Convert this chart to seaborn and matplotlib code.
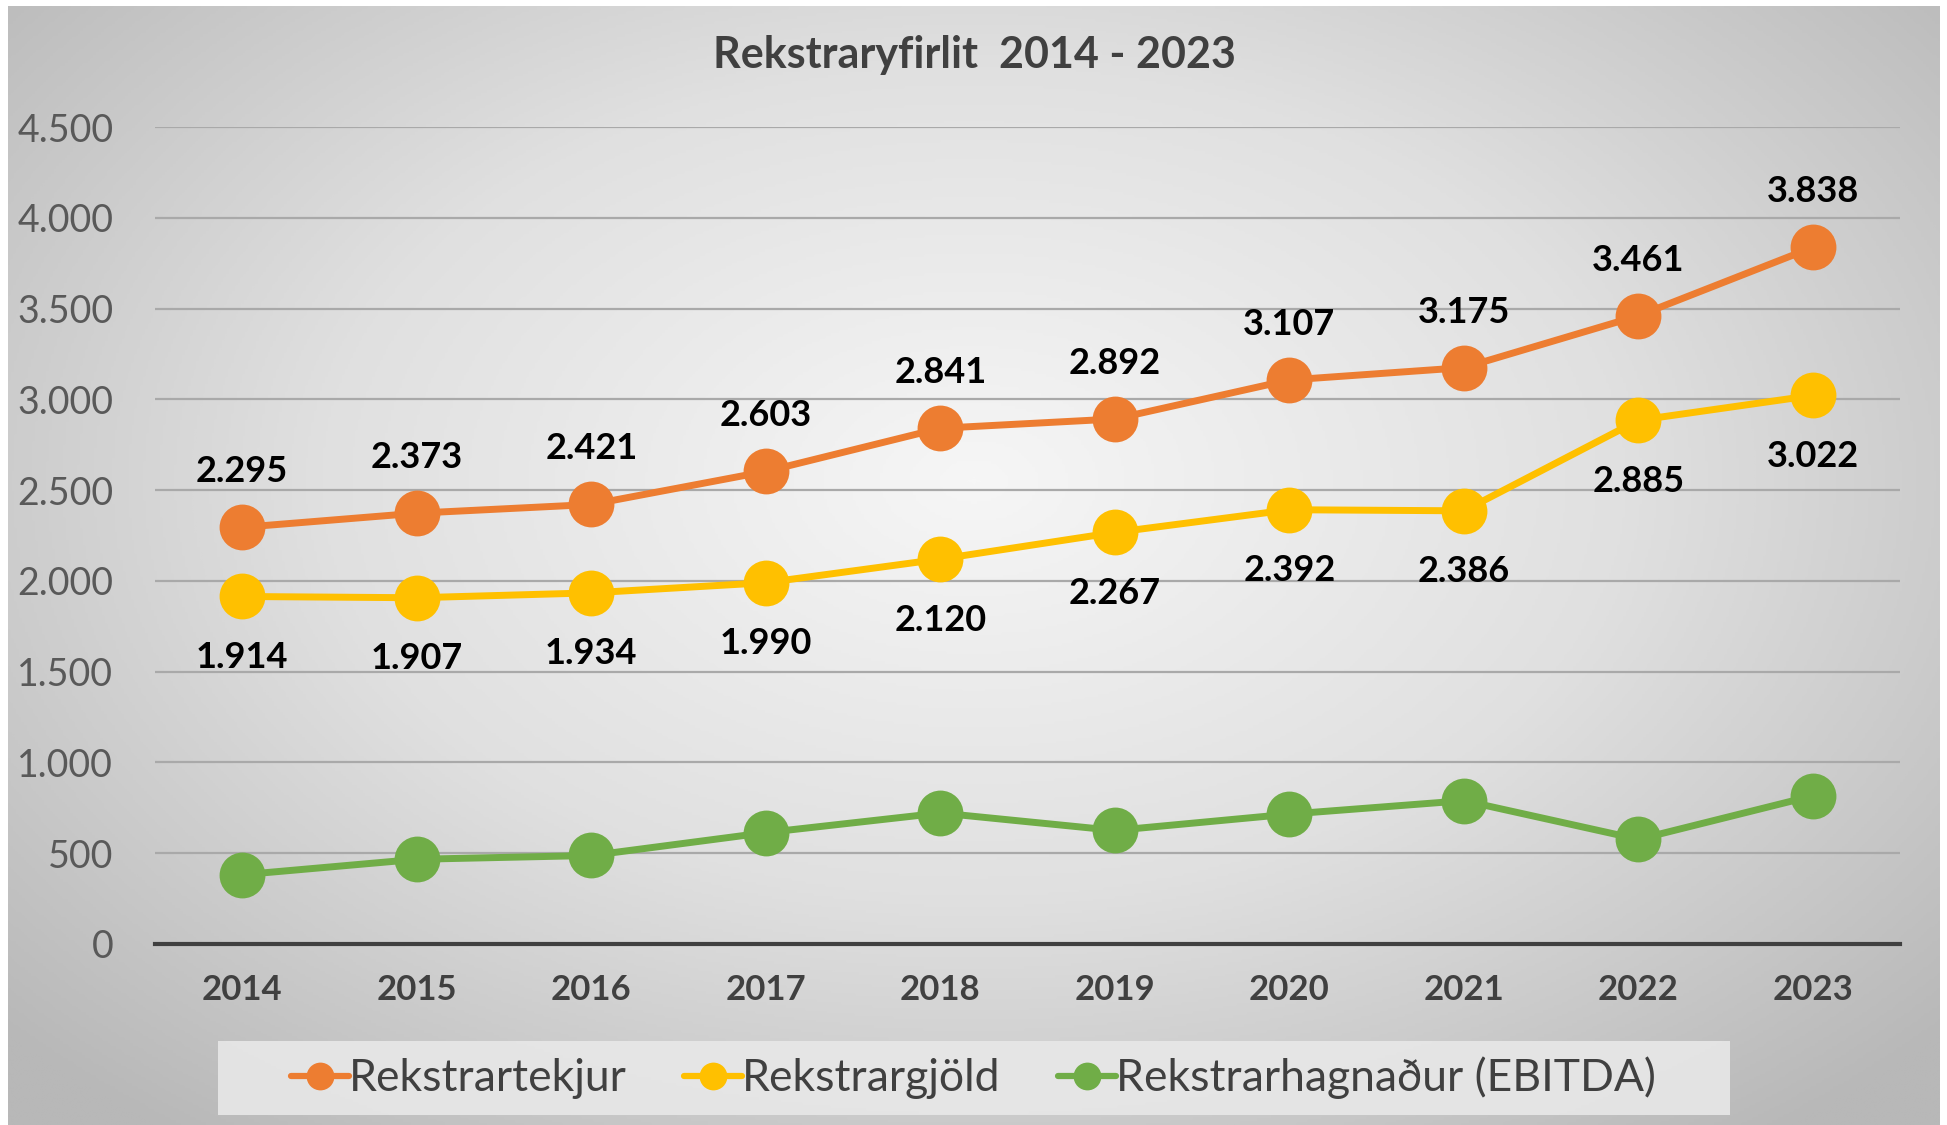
import numpy as np
import pandas as pd
import seaborn as sns
import matplotlib.pyplot as plt
from matplotlib.colors import LinearSegmentedColormap
from matplotlib.patches import Rectangle
from matplotlib.ticker import FuncFormatter

# ==========================================
# DATA
# ==========================================
YEARS = ["2014", "2015", "2016", "2017", "2018", "2019", "2020", "2021", "2022", "2023"]
REVENUE = [2295, 2373, 2421, 2603, 2841, 2892, 3107, 3175, 3461, 3838]
EXPENSES = [1914, 1907, 1934, 1990, 2120, 2267, 2392, 2386, 2885, 3022]
EBITDA = [381, 466, 487, 613, 721, 625, 715, 789, 576, 816]

SERIES_NAMES = ["Rekstrartekjur", "Rekstrargjöld", "Rekstrarhagnaður (EBITDA)"]
COLORS = ["#ED7D31", "#FFC000", "#70AD47"]
TITLE = "Rekstraryfirlit  2014 - 2023"

FONT = ["Lato", "DejaVu Sans"]


def fmt_is(v):
    # Icelandic thousands separator
    return f"{int(round(v)):,}".replace(",", ".")


def build_frame():
    rows = []
    for name, vals in zip(SERIES_NAMES, [REVENUE, EXPENSES, EBITDA]):
        for y, v in zip(YEARS, vals):
            rows.append({"Ár": y, "Upphæð": v, "Liður": name})
    return pd.DataFrame(rows)


def main():
    df = build_frame()

    sns.set_theme(style="white")
    plt.rcParams["font.family"] = FONT

    fig = plt.figure(figsize=(19.47, 11.25), dpi=100)
    fig.patch.set_facecolor("white")

    # radial grey gradient background
    bg = fig.add_axes([0.004, 0.0, 0.992, 0.995], zorder=-10)
    yy, xx = np.mgrid[-1:1:400j, -1:1:700j]
    r = np.sqrt((xx / 1.0) ** 2 + ((yy + 0.15) / 1.1) ** 2)
    cmap = LinearSegmentedColormap.from_list("bg", ["#f6f6f6", "#e0e0e0", "#b8b8b8"])
    bg.imshow(np.clip(r, 0, 1.35), cmap=cmap, aspect="auto", extent=[0, 1, 0, 1])
    bg.set_axis_off()

    # legend backdrop
    fig.patches.append(Rectangle((0.1122, 0.0089), 0.7762, 0.0662, transform=fig.transFigure,
                                 facecolor="#e8e8e8", edgecolor="none", alpha=0.9, zorder=-5))

    ax = fig.add_axes([0.0796, 0.161, 0.8964, 0.726])
    ax.patch.set_alpha(0)

    sns.lineplot(
        data=df, x="Ár", y="Upphæð", hue="Liður",
        hue_order=SERIES_NAMES, palette=COLORS,
        marker="o", markersize=33, markeredgewidth=0,
        linewidth=5, ax=ax, legend=True, zorder=3,
    )
    for ln in ax.lines:
        ln.set_clip_on(False)

    ax.set_xlim(-0.5, len(YEARS) - 0.5)
    ax.set_ylim(0, 4500)
    ax.set_yticks(np.arange(0, 4501, 500))
    ax.yaxis.set_major_formatter(FuncFormatter(lambda v, p: fmt_is(v)))
    ax.grid(axis="y", color="#a9a9a9", linewidth=1.6, zorder=0)
    ax.grid(axis="x", visible=False)
    ax.set_axisbelow(True)
    for side in ["top", "right", "left"]:
        ax.spines[side].set_visible(False)
    ax.spines["bottom"].set_color("#404040")
    ax.spines["bottom"].set_linewidth(3)

    ax.tick_params(axis="y", length=0, pad=30, labelsize=27, labelcolor="#595959")
    ax.tick_params(axis="x", length=0, pad=22, labelsize=25, labelcolor="#404040")
    for t in ax.get_xticklabels():
        t.set_fontweight("bold")
    ax.set_xlabel("")
    ax.set_ylabel("")

    # data labels: revenue above, expenses below
    for i, v in enumerate(REVENUE):
        ax.annotate(fmt_is(v), (i, v), xytext=(0, 40), textcoords="offset points",
                    ha="center", va="center", fontsize=26, fontweight="bold", color="black")
    for i, v in enumerate(EXPENSES):
        ax.annotate(fmt_is(v), (i, v), xytext=(0, -44), textcoords="offset points",
                    ha="center", va="center", fontsize=26, fontweight="bold", color="black")

    fig.text(0.5006, 0.951, TITLE, ha="center", va="center", fontsize=31,
             fontweight="bold", color="#404040")

    handles, labels = ax.get_legend_handles_labels()
    ax.get_legend().remove()
    for h in handles:
        h.set_markersize(20)
        h.set_linewidth(4.5)
    leg = fig.legend(handles, labels, loc="center", bbox_to_anchor=(0.5, 0.042),
                     ncol=3, frameon=False, fontsize=32, handlelength=1.3,
                     handletextpad=0.0, columnspacing=1.3)
    for t in leg.get_texts():
        t.set_color("#404040")

    fig.savefig("out.png", dpi=100, facecolor=fig.get_facecolor())


if __name__ == "__main__":
    main()
